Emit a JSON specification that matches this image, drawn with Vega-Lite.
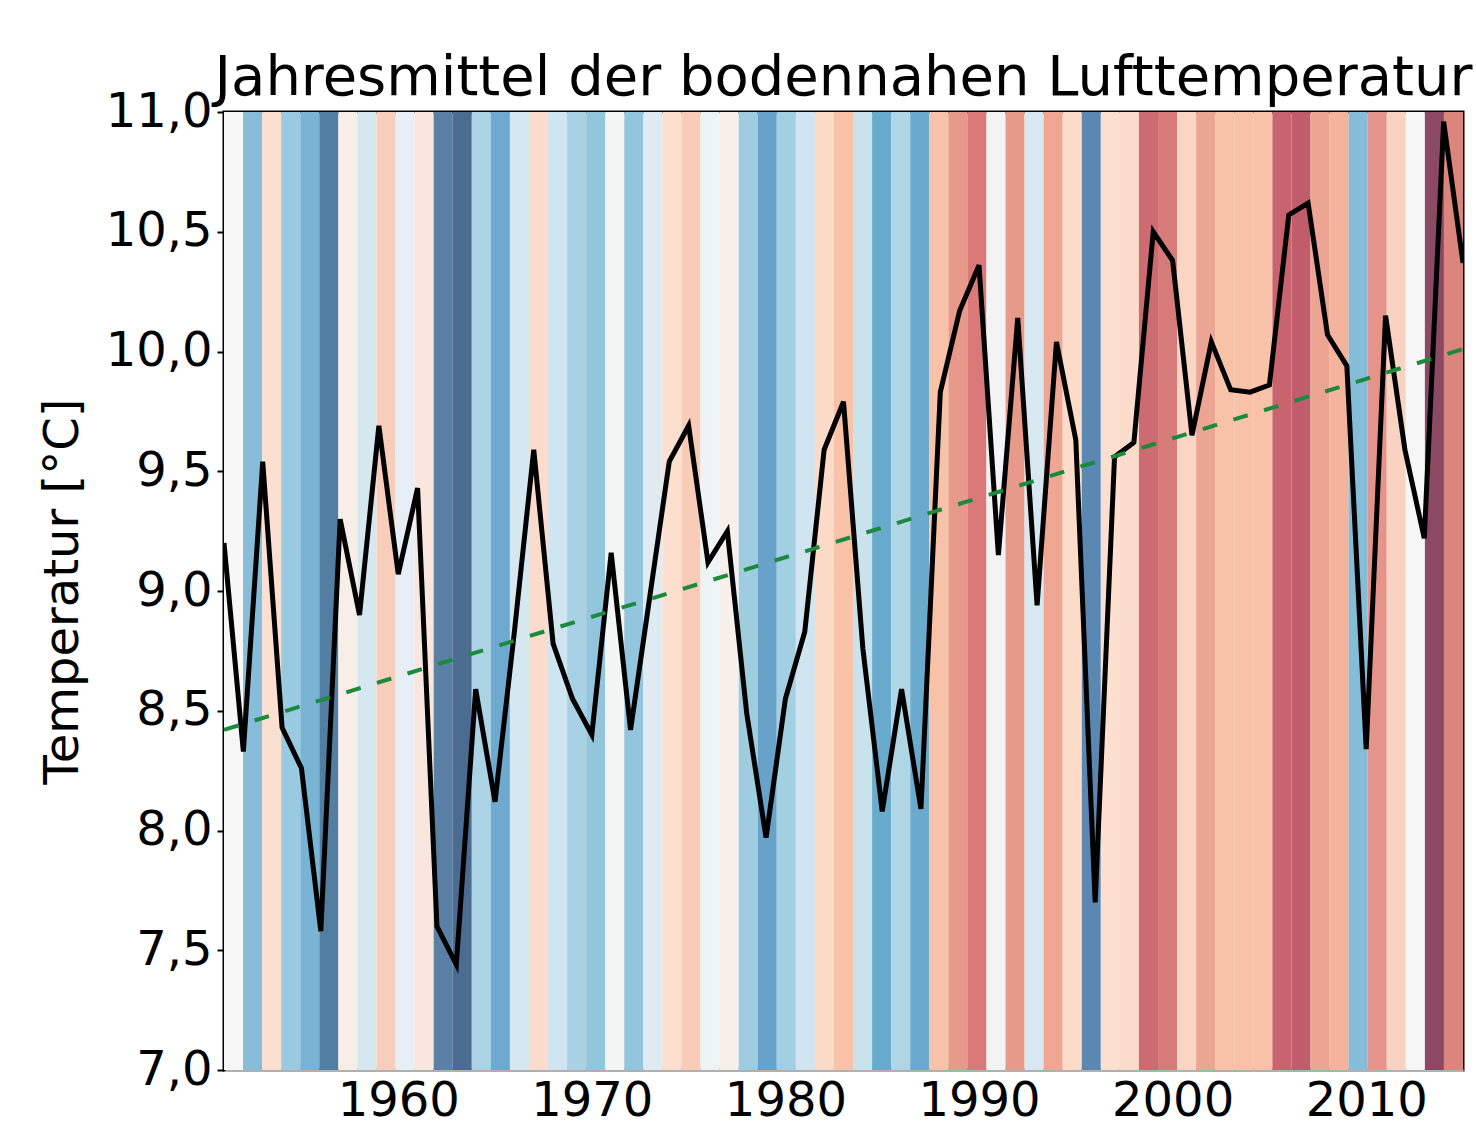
{
  "$schema": "https://vega.github.io/schema/vega-lite/v6.json",
  "width": 1239,
  "height": 958,
  "autosize": {"type": "none"},
  "padding": {"left": 224, "top": 112, "right": 13, "bottom": 55},
  "background": "white",
  "title": {
    "text": "Jahresmittel der bodennahen Lufttemperatur",
    "fontSize": 56,
    "font": "DejaVu Sans",
    "fontWeight": "normal",
    "color": "#000000",
    "anchor": "middle",
    "baseline": "alphabetic",
    "offset": -63
  },
  "config": {
    "view": {"stroke": "#000000", "strokeWidth": 3},
    "axis": {"grid": false, "labelFont": "DejaVu Sans", "titleFont": "DejaVu Sans"}
  },
  "datasets": {
    "temp": [
      {"year": 1951, "temp": 9.20}, {"year": 1952, "temp": 8.33}, {"year": 1953, "temp": 9.54},
      {"year": 1954, "temp": 8.43}, {"year": 1955, "temp": 8.26}, {"year": 1956, "temp": 7.58},
      {"year": 1957, "temp": 9.30}, {"year": 1958, "temp": 8.90}, {"year": 1959, "temp": 9.69},
      {"year": 1960, "temp": 9.07}, {"year": 1961, "temp": 9.43}, {"year": 1962, "temp": 7.60},
      {"year": 1963, "temp": 7.44}, {"year": 1964, "temp": 8.59}, {"year": 1965, "temp": 8.12},
      {"year": 1966, "temp": 8.83}, {"year": 1967, "temp": 9.59}, {"year": 1968, "temp": 8.78},
      {"year": 1969, "temp": 8.55}, {"year": 1970, "temp": 8.40}, {"year": 1971, "temp": 9.16},
      {"year": 1972, "temp": 8.42}, {"year": 1973, "temp": 8.98}, {"year": 1974, "temp": 9.54},
      {"year": 1975, "temp": 9.69}, {"year": 1976, "temp": 9.12}, {"year": 1977, "temp": 9.25},
      {"year": 1978, "temp": 8.49}, {"year": 1979, "temp": 7.97}, {"year": 1980, "temp": 8.55},
      {"year": 1981, "temp": 8.83}, {"year": 1982, "temp": 9.59}, {"year": 1983, "temp": 9.79},
      {"year": 1984, "temp": 8.76}, {"year": 1985, "temp": 8.08}, {"year": 1986, "temp": 8.59},
      {"year": 1987, "temp": 8.09}, {"year": 1988, "temp": 9.83}, {"year": 1989, "temp": 10.17},
      {"year": 1990, "temp": 10.36}, {"year": 1991, "temp": 9.15}, {"year": 1992, "temp": 10.14},
      {"year": 1993, "temp": 8.94}, {"year": 1994, "temp": 10.04}, {"year": 1995, "temp": 9.63},
      {"year": 1996, "temp": 7.70}, {"year": 1997, "temp": 9.56}, {"year": 1998, "temp": 9.62},
      {"year": 1999, "temp": 10.50}, {"year": 2000, "temp": 10.38}, {"year": 2001, "temp": 9.65},
      {"year": 2002, "temp": 10.04}, {"year": 2003, "temp": 9.84}, {"year": 2004, "temp": 9.83},
      {"year": 2005, "temp": 9.86}, {"year": 2006, "temp": 10.57}, {"year": 2007, "temp": 10.62},
      {"year": 2008, "temp": 10.07}, {"year": 2009, "temp": 9.94}, {"year": 2010, "temp": 8.34},
      {"year": 2011, "temp": 10.15}, {"year": 2012, "temp": 9.59}, {"year": 2013, "temp": 9.22},
      {"year": 2014, "temp": 10.96}, {"year": 2015, "temp": 10.37}
    ],
    "trend": [
      {"year": 1951, "temp": 8.42},
      {"year": 2015, "temp": 10.01}
    ]
  },
  "layer": [
    {
      "data": {"name": "temp"},
      "mark": {"type": "bar", "strokeWidth": 0},
      "encoding": {
        "x": {
          "field": "year",
          "type": "ordinal",
          "scale": {"paddingInner": 0, "paddingOuter": 0},
          "axis": null
        },
        "color": {
          "field": "year",
          "type": "ordinal",
          "legend": null,
          "scale": {
            "domain": [1951,1952,1953,1954,1955,1956,1957,1958,1959,1960,1961,1962,1963,1964,1965,1966,1967,1968,1969,1970,1971,1972,1973,1974,1975,1976,1977,1978,1979,1980,1981,1982,1983,1984,1985,1986,1987,1988,1989,1990,1991,1992,1993,1994,1995,1996,1997,1998,1999,2000,2001,2002,2003,2004,2005,2006,2007,2008,2009,2010,2011,2012,2013,2014,2015],
            "range": ["#f7f7f7","#87bdd9","#fbe0d1","#99cadf","#7ab4d5","#527ea2","#f7eee8","#d5e8f0","#f8cebb","#e6eff5","#f9e6dc","#5a80a6","#4b6b90","#abd2e5","#6eaad0","#d5e8f0","#fbdccc","#cfe5ef","#a9d1e4","#93c5dd","#f2f5f4","#93c6de","#dfebf0","#fcdfcf","#f9ccb8","#eef3f6","#f7efea","#9fcde0","#68a2c8","#a3cfe2","#d0e5ef","#fcdac8","#f8c2a8","#c9e3ed","#6aaacd","#b0d6e6","#6aaacd","#f7c2a8","#e79a8a","#d9797a","#f1f3f4","#e79a8a","#d8e8f0","#efa793","#fcdcc9","#5a88b2","#fcdfcf","#fbdbc9","#cc6b72","#d77a7a","#fad5c3","#eca592","#f8c2a8","#f8c2a8","#f8c2a8","#c9646f","#c15d6a","#eba592","#f4b39d","#85bcd8","#e5948a","#f9d3c2","#f6f6f6","#8b4a62","#db857d"]
          }
        }
      }
    },
    {
      "encoding": {
        "x": {
          "field": "year",
          "type": "quantitative",
          "scale": {"domain": [1951, 2015], "nice": false, "zero": false},
          "axis": {
            "title": null,
            "values": [1960, 1970, 1980, 1990, 2000, 2010],
            "format": "d",
            "labelFontSize": 48,
            "labelColor": "#000000",
            "tickSize": 0,
            "labelPadding": 7,
            "domainColor": "#b0b0b0",
            "domainWidth": 3
          }
        },
        "y": {
          "field": "temp",
          "type": "quantitative",
          "scale": {"domain": [7, 11], "nice": false, "zero": false},
          "axis": {
            "title": "Temperatur [°C]",
            "titleFontSize": 48,
            "titleFontWeight": "normal",
            "titleColor": "#000000",
            "titlePadding": 18,
            "values": [7, 7.5, 8, 8.5, 9, 9.5, 10, 10.5, 11],
            "labelExpr": "replace(format(datum.value, '.1f'), '.', ',')",
            "labelFontSize": 48,
            "labelColor": "#000000",
            "tickSize": 7,
            "tickColor": "#000000",
            "tickWidth": 2,
            "labelPadding": 5,
            "domainColor": "#000000",
            "domainWidth": 3
          }
        }
      },
      "layer": [
        {
          "data": {"name": "temp"},
          "mark": {"type": "line", "color": "#000000", "strokeWidth": 5, "strokeJoin": "miter", "clip": true}
        },
        {
          "data": {"name": "trend"},
          "mark": {"type": "line", "color": "#1b8a3c", "strokeWidth": 4, "strokeDash": [15, 17]}
        }
      ]
    }
  ],
  "resolve": {"scale": {"x": "independent"}, "axis": {"x": "independent"}}
}
